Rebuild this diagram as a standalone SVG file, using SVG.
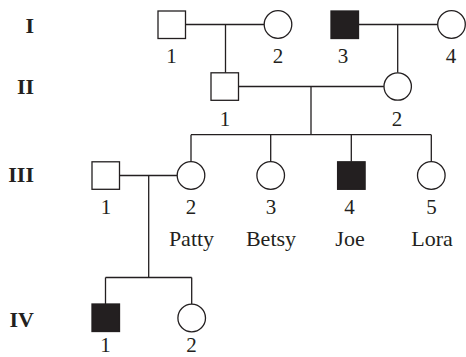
<svg xmlns="http://www.w3.org/2000/svg" width="466" height="357" viewBox="0 0 466 357">
<style>
.s{fill:#fff;stroke:#231f20;stroke-width:1.3}
.a{fill:#231f20;stroke:#231f20;stroke-width:1.3}
.l{fill:none;stroke:#231f20;stroke-width:1.3}
.n{font-family:"Liberation Serif",serif;font-size:21px;fill:#231f20;text-anchor:middle}
.m{font-family:"Liberation Serif",serif;font-size:22px;fill:#231f20;text-anchor:middle}
.g{font-family:"Liberation Serif",serif;font-size:22px;font-weight:bold;fill:#231f20;text-anchor:end}
</style>
<rect width="466" height="357" fill="#fff"/>
<g id="generations">
<text class="g" x="34" y="33">I</text>
<text class="g" x="34" y="94">II</text>
<text class="g" x="34" y="182">III</text>
<text class="g" x="34" y="327">IV</text>
</g>
<g id="connectors">
<path class="l" d="M185 24.5H264.2M225.5 24.5V73"/>
<path class="l" d="M358.5 24.5H437.7M397.7 24.5V72.8"/>
<path class="l" d="M238.5 86.5H383.9M311 86.5V134.7"/>
<path class="l" d="M191 134.7H431.3M191 134.7V161.7M270.7 134.7V161.7M351.3 134.7V161.7M431.3 134.7V161.7"/>
<path class="l" d="M119.5 175.5H177.2M148.7 175.5V277.5"/>
<path class="l" d="M105.5 277.5H191.7M105.5 277.5V304M191.7 277.5V304.2"/>
</g>
<g id="I-1"><rect class="s" x="158" y="11" width="27.5" height="27.5"/><text class="n" x="171.5" y="62.5">1</text></g>
<g id="I-2"><circle class="s" cx="278" cy="24.5" r="13.8"/><text class="n" x="278" y="62.5">2</text></g>
<g id="I-3"><rect class="a" x="331" y="11" width="27.5" height="27.5"/><text class="n" x="343" y="62.5">3</text></g>
<g id="I-4"><circle class="s" cx="451.5" cy="24.5" r="13.8"/><text class="n" x="451" y="62.5">4</text></g>
<g id="II-1"><rect class="s" x="211" y="72.8" width="27.5" height="27.5"/><text class="n" x="225" y="126">1</text></g>
<g id="II-2"><circle class="s" cx="397.7" cy="86.5" r="13.7"/><text class="n" x="397" y="126">2</text></g>
<g id="III-1"><rect class="s" x="92" y="161.8" width="27.5" height="27.5"/><text class="n" x="106" y="214">1</text></g>
<g id="III-2"><circle class="s" cx="191" cy="175.5" r="13.8"/><text class="n" x="191" y="214">2</text><text class="m" x="191.5" y="246">Patty</text></g>
<g id="III-3"><circle class="s" cx="270.7" cy="175.5" r="13.8"/><text class="n" x="271" y="214">3</text><text class="m" x="271" y="246">Betsy</text></g>
<g id="III-4"><rect class="a" x="337.6" y="161.8" width="27.5" height="27.5"/><text class="n" x="349.5" y="214">4</text><text class="m" x="350" y="246">Joe</text></g>
<g id="III-5"><circle class="s" cx="431.3" cy="175.5" r="13.8"/><text class="n" x="431.5" y="214">5</text><text class="m" x="432" y="246">Lora</text></g>
<g id="IV-1"><rect class="a" x="92" y="304" width="27.5" height="27.5"/><text class="n" x="105.5" y="352">1</text></g>
<g id="IV-2"><circle class="s" cx="191.7" cy="318" r="13.8"/><text class="n" x="191.5" y="352">2</text></g>
</svg>
